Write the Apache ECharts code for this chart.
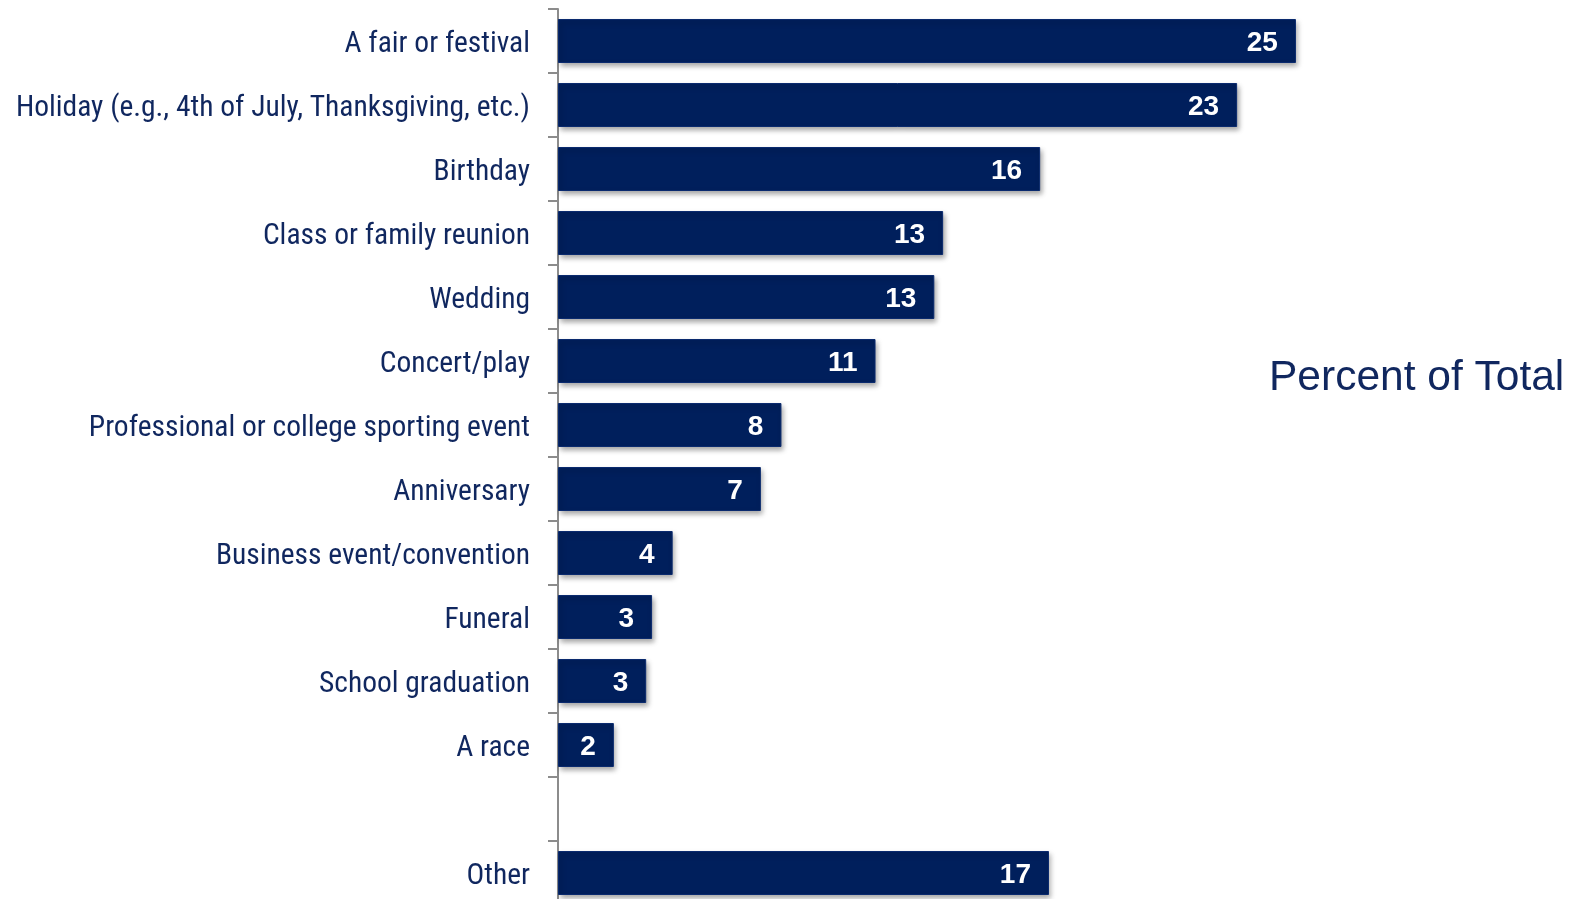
<!DOCTYPE html>
<html>
<head>
<meta charset="utf-8">
<title>Percent of Total</title>
<script src="https://cdn.jsdelivr.net/npm/echarts@6/dist/echarts.min.js"></script>
<style>
  html, body { margin: 0; padding: 0; background: #ffffff; }
  #chart { width: 1576px; height: 899px; }
</style>
</head>
<body>
<div id="chart"></div>
<script>
// Occasions, top to bottom; the blank entry leaves a gap before "Other"
const categories = [
  'A fair or festival',
  'Holiday (e.g., 4th of July, Thanksgiving, etc.)',
  'Birthday',
  'Class or family reunion',
  'Wedding',
  'Concert/play',
  'Professional or college sporting event',
  'Anniversary',
  'Business event/convention',
  'Funeral',
  'School graduation',
  'A race',
  '',
  'Other'
];

// Percent of total for each occasion
const percents = [25.1, 23.1, 16.4, 13.1, 12.8, 10.8, 7.6, 6.9, 3.9, 3.2, 3.0, 1.9, null, 16.7];

const sideTitle = 'Percent of Total';

const navy = '#001f5c';
const textNavy = '#10275f';

const chart = echarts.init(document.getElementById('chart'), null, { renderer: 'canvas' });

chart.setOption({
  backgroundColor: '#ffffff',
  animation: false,
  grid: {
    left: 558, top: 9, width: 882, height: 896,
    containLabel: false,
    outerBoundsMode: 'none'
  },
  xAxis: {
    type: 'value',
    min: 0,
    max: 30,
    show: false
  },
  yAxis: {
    type: 'category',
    data: categories,
    inverse: true,
    axisLine: { show: true, lineStyle: { color: '#8c8c8c', width: 2 } },
    axisTick: { show: true, length: 10, lineStyle: { color: '#8c8c8c', width: 2 } },
    axisLabel: {
      margin: 28,
      formatter: v => (v ? '{c|' + v + '}' : ''),
      rich: {
        c: {
          color: textNavy,
          fontFamily: '"Liberation Sans Narrow", "Arial Narrow", "Roboto Condensed", sans-serif',
          fontSize: 29.5,
          padding: [7, 0, 0, 0]
        }
      }
    },
    splitLine: { show: false }
  },
  series: [{
    type: 'bar',
    data: percents,
    barWidth: 44,
    itemStyle: {
      color: navy,
      borderColor: '#0a2a6e',
      borderWidth: 1,
      shadowColor: 'rgba(0,0,0,0.35)',
      shadowBlur: 5,
      shadowOffsetX: 2,
      shadowOffsetY: 3
    },
    label: {
      show: true,
      position: 'insideRight',
      distance: 18,
      formatter: p => (p.value == null ? '' : '{v|' + Math.round(p.value) + '}'),
      rich: {
        v: {
          color: '#ffffff',
          fontFamily: 'Arial, "Liberation Sans", sans-serif',
          fontWeight: 'bold',
          fontSize: 28,
          padding: [4, 0, 0, 0]
        }
      }
    }
  }],
  graphic: [{
    type: 'text',
    left: 1269,
    top: 357,
    style: {
      text: sideTitle,
      fill: textNavy,
      font: '42.5px Arial, "Liberation Sans", sans-serif'
    }
  }]
});
</script>
</body>
</html>
